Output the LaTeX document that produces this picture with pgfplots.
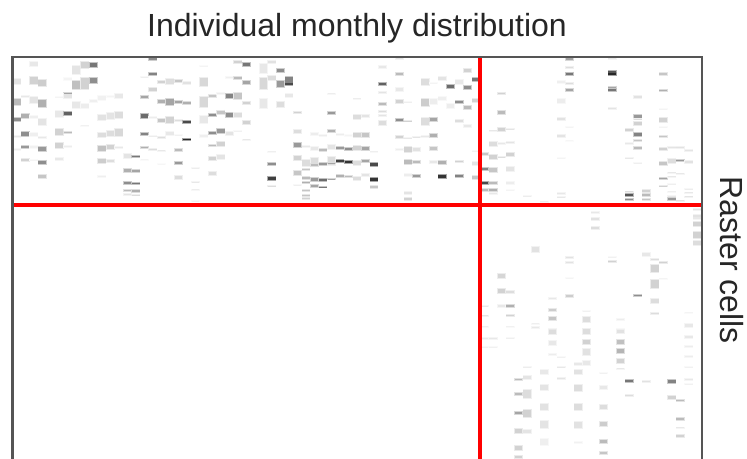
\documentclass[border=0pt]{standalone}
\usepackage{pgfplots}
\usepackage{pgfplotstable}
\usepackage{fontspec}
\setmainfont{Liberation Sans}
\pgfplotsset{compat=1.18}
\pgfplotstableread{
c y h d
0 95 18 .12
0 155 20 .3
0 208 12 .5
0 258 5 .1
0 297 5 .08
1 139 6 .1
1 198 14 .35
1 252 14 .5
1 291 10 .45
1 331 8 .2
2 42 14 .1
2 92 22 .2
2 150 18 .12
2 201 10 .07
2 253 10 .07
2 291 6 .06
2 330 4 .05
3 99 22 .22
3 160 24 .35
3 216 22 .12
3 262 6 .1
3 298 14 .45
3 337 12 .5
3 379 10 .25
5 141 3 .05
5 192 18 .1
5 246 20 .2
5 287 16 .2
5 328 8 .1
6 87 8 .05
6 131 8 .4
6 138 12 .12
6 190 10 .7
6 247 6 .3
6 289 3 .08
7 60 28 .12
7 105 26 .28
7 165 22 .1
8 46 20 .2
8 100 36 .2
8 168 14 .08
8 227 3 .06
9 44 14 .6
9 92 18 .5
9 153 6 .07
10 145 14 .06
10 203 18 .13
10 255 14 .15
10 295 16 .27
10 333 16 .22
10 379 3 .07
11 140 6 .05
11 198 20 .12
11 250 18 .15
11 292 14 .2
11 333 10 .15
12 138 16 .1
12 195 20 .15
12 247 24 .17
12 293 6 .1
13 318 16 .12
13 361 12 .35
13 399 8 .5
13 421 6 .3
13 433 5 .12
14 320 6 .6
14 363 10 .4
14 400 6 .6
14 423 6 .35
14 435 4 .15
15 82 2 .07
15 141 10 .4
15 198 12 .65
15 253 8 .55
15 292 6 .35
15 329 2 .05
16 26 8 .5
16 72 10 .55
16 119 12 .2
16 202 3 .08
16 258 3 .08
16 299 5 .15
17 95 8 .2
17 155 12 .35
17 211 12 .25
17 262 6 .15
17 302 3 .1
17 343 2 .04
18 95 18 .15
18 155 20 .4
18 209 20 .2
18 250 10 .1
19 94 8 .25
19 155 8 .4
19 212 6 .15
19 255 3 .06
19 300 10 .3
19 339 10 .45
19 383 10 .15
20 99 6 .13
20 160 8 .35
20 217 8 .8
20 269 4 .95
21 354 3 .08
21 396 3 .1
21 419 3 .08
21 453 3 .06
22 48 2 .05
22 95 26 .17
22 155 32 .17
22 208 24 .1
22 258 10 .07
23 138 8 .25
23 195 10 .5
23 248 8 .5
23 287 6 .3
23 325 10 .2
23 371 10 .15
24 131 4 .08
24 187 12 .25
24 242 14 .45
24 283 14 .2
24 321 12 .12
25 82 3 .07
25 138 14 .55
25 196 14 .5
25 250 10 .12
26 35 8 .2
26 84 10 .3
26 138 20 .25
26 194 14 .15
26 243 3 .06
27 44 10 .6
27 97 10 .4
27 159 10 .2
27 217 10 .2
27 269 3 .1
29 55 30 .1
29 100 36 .17
29 160 30 .1
30 35 8 .13
30 84 12 .15
30 305 2 .07
30 342 6 .5
30 385 12 .85
30 408 4 .15
31 61 10 .5
31 103 20 .45
31 163 18 .15
32 92 24 .55
32 101 8 .8
32 137 12 .1
33 188 6 .2
33 245 10 .15
33 285 14 .45
33 324 16 .2
33 369 14 .25
33 405 2 .07
34 289 5 .1
34 338 20 .15
34 358 6 .25
34 384 6 .3
34 398 6 .35
34 422 6 .25
34 435 5 .25
34 445 5 .2
35 252 8 .08
35 295 10 .1
35 335 26 .15
35 345 6 .3
35 388 10 .45
35 409 8 .4
36 256 6 .08
36 300 10 .3
36 342 8 .45
36 390 6 .65
36 411 4 .6
37 131 3 .08
37 188 8 .45
37 244 8 .35
37 290 14 .12
37 333 26 .15
37 339 4 .4
37 387 4 .4
38 253 6 .08
38 294 10 .45
38 334 8 .85
38 379 8 .35
39 256 3 .05
39 298 8 .5
39 337 8 .9
39 380 6 .3
40 146 3 .08
40 201 14 .15
40 254 14 .2
40 294 14 .2
40 338 14 .15
40 386 10 .15
41 199 8 .12
41 255 12 .25
41 296 12 .4
41 333 10 .4
41 375 8 .12
42 305 3 .07
42 343 10 .8
42 388 12 .9
42 411 6 .25
43 52 8 .1
43 101 8 .7
43 128 5 .12
43 162 10 .3
43 185 6 .15
43 197 6 .12
43 218 14 .15
45 26 6 .12
45 73 8 .3
45 118 12 .1
45 154 10 .2
45 209 8 .5
45 261 7 .2
45 298 3 .08
46 157 2 .07
46 213 4 .2
46 265 2 .1
46 299 16 .2
46 336 12 .3
46 375 10 .08
46 430 8 .12
46 446 8 .2
47 261 4 .12
47 298 10 .13
47 336 10 .3
47 378 8 .45
48 96 18 .15
48 158 22 .22
48 214 24 .15
48 259 6 .1
49 100 2 .05
49 155 16 .08
49 208 12 .4
49 257 12 .35
49 296 12 .25
49 337 8 .1
50 85 12 .12
50 146 10 .07
50 337 10 .35
50 379 12 .9
51 110 12 .65
51 168 14 .08
52 95 14 .1
52 156 8 .5
52 213 10 .15
52 335 6 .2
52 377 8 .55
53 62 12 .2
53 112 12 .5
53 172 12 .3
53 228 8 .1
54 88 12 .6
54 152 10 .2
54 303 2 .06
54 340 10 .12
54 383 10 .25
55 312 6 .25
55 356 8 .55
55 398 8 .8
55 420 6 .3
55 769 2 .1
55 797 3 .12
55 830 2 .07
55 865 3 .1
55 892 2 .06
56 242 3 .1
56 282 12 .15
56 321 14 .2
56 360 12 .25
56 398 8 .3
56 420 6 .35
56 429 5 .1
56 865 3 .1
56 892 2 .06
57 130 6 .2
57 187 12 .3
57 239 10 .2
57 281 4 .1
57 321 3 .15
57 678 14 .18
57 724 14 .2
57 768 10 .1
58 237 3 .12
58 277 6 .12
58 314 10 .2
58 358 14 .12
58 399 10 .08
58 421 2 .05
58 727 8 .15
58 768 10 .35
58 796 5 .2
58 830 2 .06
58 865 2 .07
59 989 5 .3
59 1032 8 .3
59 1088 8 .4
59 1143 12 .2
59 1194 14 .2
59 1222 8 .2
60 439 2 .08
60 951 2 .08
60 982 10 .12
60 1032 28 .15
60 1090 24 .2
60 1144 12 .12
61 598 18 .13
61 821 2 .07
61 833 4 .1
62 455 2 .07
62 966 14 .1
62 1013 18 .12
62 1071 22 .13
62 1124 22 .12
62 1175 20 .07
63 745 6 .1
63 780 10 .22
63 806 12 .25
63 838 2 .1
63 845 14 .15
63 879 14 .1
63 913 6 .08
64 95 8 .07
64 153 14 .08
64 207 8 .13
64 257 8 .12
64 325 2 .05
64 430 6 .1
64 441 4 .1
64 922 2 .06
64 952 2 .1
64 985 6 .12
65 26 8 .4
65 52 6 .15
65 72 10 .6
65 101 6 .15
65 121 8 .4
65 232 2 .05
65 272 2 .04
65 623 4 .13
65 637 6 .13
65 685 2 .05
65 737 8 .22
66 942 6 .1
66 967 14 .13
66 1014 20 .15
66 1072 20 .15
66 1125 18 .13
66 1177 6 .06
67 783 2 .06
67 809 18 .15
67 838 4 .12
67 845 18 .15
67 876 16 .2
67 906 18 .13
67 939 16 .1
68 468 3 .05
68 486 5 .1
68 508 8 .13
68 535 8 .15
69 970 2 .06
69 1013 12 .1
69 1071 14 .15
69 1122 14 .22
69 1174 12 .3
69 1208 8 .25
70 26 3 .1
70 66 8 .75
70 72 6 .95
70 112 6 .4
70 120 6 .6
70 176 6 .12
70 622 2 .06
70 635 4 .2
71 808 6 .08
71 838 2 .07
71 845 12 .13
71 875 14 .28
71 903 16 .33
71 933 14 .2
71 956 3 .1
72 241 8 .2
72 281 6 .1
72 324 3 .1
72 425 2 .15
72 435 6 .75
72 448 6 .5
72 993 8 .6
72 1037 6 .15
73 141 6 .13
73 199 10 .45
73 208 2 .15
73 221 10 .2
73 254 10 .55
73 272 4 .25
73 294 8 .3
73 339 2 .07
73 735 5 .5
74 423 6 .2
74 435 6 .3
74 448 6 .25
74 614 12 .1
74 994 5 .13
75 629 6 .15
75 655 24 .2
75 702 26 .2
75 753 16 .15
75 790 4 .15
76 73 8 .25
76 121 6 .35
76 178 2 .05
76 211 14 .2
76 232 2 .05
76 260 5 .25
76 297 6 .2
76 341 10 .25
76 386 6 .4
76 408 4 .2
76 636 5 .2
76 686 2 .05
77 292 3 .12
77 332 14 .15
77 368 3 .1
77 380 2 .1
77 403 2 .07
77 425 2 .07
77 438 4 .1
77 447 8 .45
77 995 12 .55
77 1043 10 .2
78 292 3 .13
78 331 6 .45
78 371 2 .1
78 452 3 .13
78 1052 6 .3
78 1108 8 .3
78 1133 3 .1
78 1158 10 .2
79 300 5 .12
79 337 8 .13
79 418 2 .08
79 428 2 .1
79 440 3 .12
79 788 2 .05
79 827 10 .1
79 861 8 .1
79 890 6 .08
79 920 6 .08
79 952 2 .06
79 989 4 .1
79 1002 2 .06
80 478 6 .12
80 505 8 .1
80 497 8 .13
80 522 14 .2
80 555 20 .2
80 578 14 .15
}\rastertable
\begin{document}
\begin{tikzpicture}
\useasboundingbox (0,0) rectangle (747bp,-459bp);
\definecolor{txt}{HTML}{262626}
\definecolor{spine}{HTML}{555555}
\begin{axis}[
  at={(12.5bp,-57bp)}, anchor=north west,
  scale only axis, width=689bp, height=406bp,
  xmin=0, xmax=81, ymin=21, ymax=1239, y dir=reverse,
  xtick=\empty, ytick=\empty,
  axis on top,
  axis line style={draw=spine, line width=2bp},
  title={Individual monthly distribution},
  title style={at={(axis description cs:0.5,1)}, anchor=base, yshift=14.3bp,
    font=\fontsize{32bp}{36bp}\selectfont, text=txt},
  ylabel={Raster cells},
  ylabel style={at={(axis description cs:1.0279,0.5)}, anchor=base, rotate=180,
    font=\fontsize{32bp}{36bp}\selectfont, text=txt},
  colormap={rast}{gray(0cm)=(1); gray(1cm)=(0)},
  point meta min=0, point meta max=1,
]
% soft halo under each cell, as the interpolated raster has
\addplot[no marks, point meta={0.38*\thisrow{d}},
  quiver={u=0, v={\thisrow{h}+4}, colored=mapped color,
    every arrow/.append style={line width=8.9bp}}]
  table[x expr=\thisrow{c}+0.5, y expr={\thisrow{y}-\thisrow{h}/2-2}] {\rastertable};
\addplot[no marks, point meta={0.88*\thisrow{d}},
  quiver={u=0, v={max(\thisrow{h}-2,1.5)}, colored=mapped color,
    every arrow/.append style={line width=7.6bp}}]
  table[x expr=\thisrow{c}+0.5, y expr={\thisrow{y}-max(\thisrow{h}-2,1.5)/2}] {\rastertable};
\addplot[no marks, color=red, line width=4bp] coordinates {(0,463.5) (81,463.5)};
\addplot[no marks, color=red, line width=4bp] coordinates {(55,21) (55,1239)};
\end{axis}
\end{tikzpicture}
\end{document}
